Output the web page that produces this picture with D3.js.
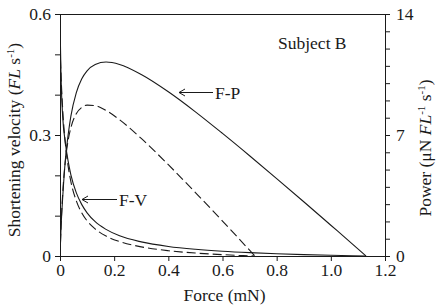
<!DOCTYPE html>
<html>
<head>
<meta charset="utf-8">
<script src="https://cdn.jsdelivr.net/npm/d3@7"></script>
<style>
  html, body { margin: 0; padding: 0; background: #fff; }
  svg text { font-family: "Liberation Serif", "Times New Roman", serif; fill: #1a1a1a; }
</style>
</head>
<body>
<svg id="chart" width="438" height="306"></svg>
<script>
// ---- data ----
const fvForceSolid = [0, 0.004, 0.01, 0.02, 0.03, 0.04, 0.06, 0.08, 0.1, 0.13, 0.17, 0.22, 0.3, 0.4, 0.5, 0.6, 0.7, 0.8, 0.9, 1.0, 1.08, 1.13];
const fvVelSolid   = [0.58, 0.44, 0.345, 0.28, 0.235, 0.202, 0.157, 0.128, 0.107, 0.085, 0.066, 0.050, 0.035, 0.0237, 0.0167, 0.0118, 0.0083, 0.0056, 0.0035, 0.0018, 0.0006, 0];
const fpPowerSolid = [0, 1.7, 3.4, 5.6, 7.0, 8.08, 9.44, 10.24, 10.71, 11.08, 11.22, 11.08, 10.5, 9.5, 8.34, 7.09, 5.8, 4.48, 3.14, 1.78, 0.69, 0];

const fvForceDashed = [0, 0.004, 0.01, 0.02, 0.03, 0.04, 0.06, 0.08, 0.1, 0.13, 0.17, 0.22, 0.3, 0.4, 0.5, 0.6, 0.66, 0.72];
const fvVelDashed   = [0.52, 0.444, 0.363, 0.277, 0.223, 0.185, 0.137, 0.107, 0.087, 0.067, 0.0495, 0.0358, 0.0227, 0.0132, 0.0073, 0.0034, 0.0015, 0];
const fpPowerDashed = [0, 1.78, 3.63, 5.54, 6.68, 7.41, 8.23, 8.59, 8.73, 8.70, 8.42, 7.88, 6.80, 5.28, 3.67, 2.02, 1.01, 0];

const xTicks = [0, 0.2, 0.4, 0.6, 0.8, 1.0, 1.2];
const yLeftTicks = [0, 0.1, 0.2, 0.3, 0.4, 0.5, 0.6];
const yLeftLabels = [0, 0.3, 0.6];
const yRightTicks = d3.range(0, 15, 1);
const yRightLabels = [0, 7, 14];

// ---- layout ----
const svg = d3.select("#chart");
const L = 60, R = 385, T = 14, B = 256;
const FS = 17.5;
const x = d3.scaleLinear().domain([0, 1.2]).range([L, R]);
const yV = d3.scaleLinear().domain([0, 0.6]).range([B, T]);
const yP = d3.scaleLinear().domain([0, 14]).range([B, T]);
const ink = "#1a1a1a";

// top border
svg.append("line").attr("x1", L).attr("x2", R + 1).attr("y1", T + 0.5).attr("y2", T + 0.5)
  .attr("stroke", ink).attr("stroke-width", 1);

// axes
const fmtX = d => d === 0 ? "0" : d3.format(".1f")(d);
const gx = svg.append("g").attr("transform", `translate(0,${B})`)
  .call(d3.axisBottom(x).tickValues(xTicks).tickFormat(fmtX).tickSize(5).tickSizeOuter(0).tickPadding(3));
const gl = svg.append("g").attr("transform", `translate(${L},0)`)
  .call(d3.axisLeft(yV).tickValues(yLeftTicks)
    .tickFormat(d => yLeftLabels.some(v => Math.abs(v - d) < 1e-9) ? (d === 0 ? "0" : d3.format(".1f")(d)) : "")
    .tickSize(5).tickSizeOuter(0).tickPadding(4));
const gr = svg.append("g").attr("transform", `translate(${R},0)`)
  .call(d3.axisRight(yP).tickValues(yRightTicks)
    .tickFormat(d => yRightLabels.includes(d) ? String(d) : "")
    .tickSize(5).tickSizeOuter(0).tickPadding(6));
[gx, gl, gr].forEach(g => {
  g.selectAll("path, line").attr("stroke", ink);
  g.selectAll("text").attr("font-size", FS).attr("font-family", "Liberation Serif").attr("fill", ink);
});

// curves
const clip = svg.append("clipPath").attr("id", "clip").append("rect")
  .attr("x", L).attr("y", T).attr("width", R - L).attr("height", B - T + 1);
const plot = svg.append("g").attr("clip-path", "url(#clip)");
const line = d3.line().curve(d3.curveMonotoneX);
function draw(fs, vs, ys, dashed) {
  plot.append("path")
    .attr("d", line(fs.map((f, i) => [x(f), ys(vs[i])])))
    .attr("fill", "none").attr("stroke", ink).attr("stroke-width", 1.1)
    .attr("stroke-dasharray", dashed ? "9,4" : null);
}
draw(fvForceSolid, fvVelSolid, yV, false);
draw(fvForceSolid, fpPowerSolid, yP, false);
draw(fvForceDashed, fvVelDashed, yV, true);
draw(fvForceDashed, fpPowerDashed, yP, true);

// annotations with open arrowheads
function arrow(tipX, y, endX, label) {
  const g = svg.append("g").attr("stroke", ink).attr("stroke-width", 1).attr("fill", "none");
  g.append("line").attr("x1", tipX).attr("x2", endX).attr("y1", y).attr("y2", y);
  g.append("path").attr("d", `M${tipX + 6},${y - 3.5}L${tipX},${y}L${tipX + 6},${y + 3.5}`);
  svg.append("text").attr("x", endX + 2).attr("y", y + 6.3).attr("font-size", FS).text(label);
}
arrow(179, 92.5, 213, "F-P");
arrow(82, 199.5, 117, "F-V");

svg.append("text").attr("x", 278).attr("y", 48.5).attr("font-size", FS).text("Subject B");

// axis titles
svg.append("text").attr("x", (L + R) / 2 + 2).attr("y", 301).attr("text-anchor", "middle")
  .attr("font-size", FS).text("Force (mN)");

const lt = svg.append("text").attr("transform", "translate(20,140) rotate(-90)")
  .attr("text-anchor", "middle").attr("font-size", FS);
lt.append("tspan").text("Shortening velocity (");
lt.append("tspan").attr("font-style", "italic").text("FL");
lt.append("tspan").text(" s");
lt.append("tspan").attr("font-size", 11).attr("dy", -6).text("-1");
lt.append("tspan").attr("dy", 6).text(")");

const rt = svg.append("text").attr("transform", "translate(431,148) rotate(-90)")
  .attr("text-anchor", "middle").attr("font-size", FS);
rt.append("tspan").text("Power (μN ");
rt.append("tspan").attr("font-style", "italic").text("FL");
rt.append("tspan").attr("font-size", 11).attr("dy", -6).text("-1");
rt.append("tspan").attr("dy", 6).text(" s");
rt.append("tspan").attr("font-size", 11).attr("dy", -6).text("-1");
rt.append("tspan").attr("dy", 6).text(")");
</script>
</body>
</html>
